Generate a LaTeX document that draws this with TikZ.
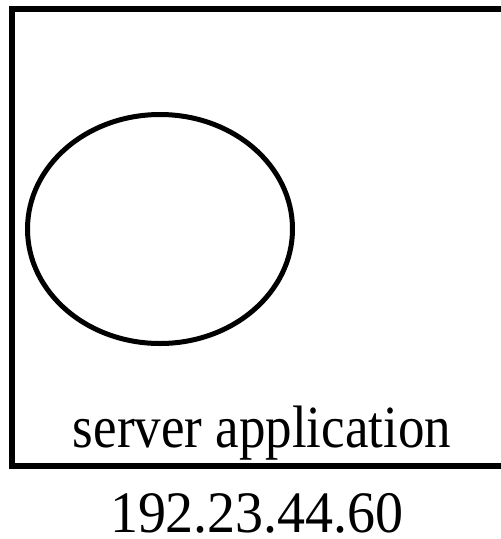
\documentclass[tikz,border=0pt]{standalone}
\usepackage{fontspec}
\setmainfont{Liberation Serif}
\usetikzlibrary{shapes.geometric}
\tikzset{
  frame/.style={draw=black, line width=6.5pt},
  oval/.style={draw=black, line width=5pt, ellipse, minimum width=265pt, minimum height=229pt, inner sep=0pt},
  label/.style={inner sep=0pt, anchor=base}
}
\begin{document}
\begin{tikzpicture}[x=1pt, y=-1pt]
  \clip (0,0) rectangle (501,539);
  \useasboundingbox (0,0) rectangle (501,539);
  \draw[frame] (12,9) rectangle (506,466);
  \node[oval] (app) at (160,229) {};
  \node[label, font=\fontsize{53}{60}\selectfont] (name) at (262,447) {\scalebox{1}[1.13]{server application}};
  \node[label, font=\fontsize{56}{62}\selectfont] (ip) at (257,532) {\scalebox{1}[1.05]{192.23.44.60}};
\end{tikzpicture}
\end{document}
